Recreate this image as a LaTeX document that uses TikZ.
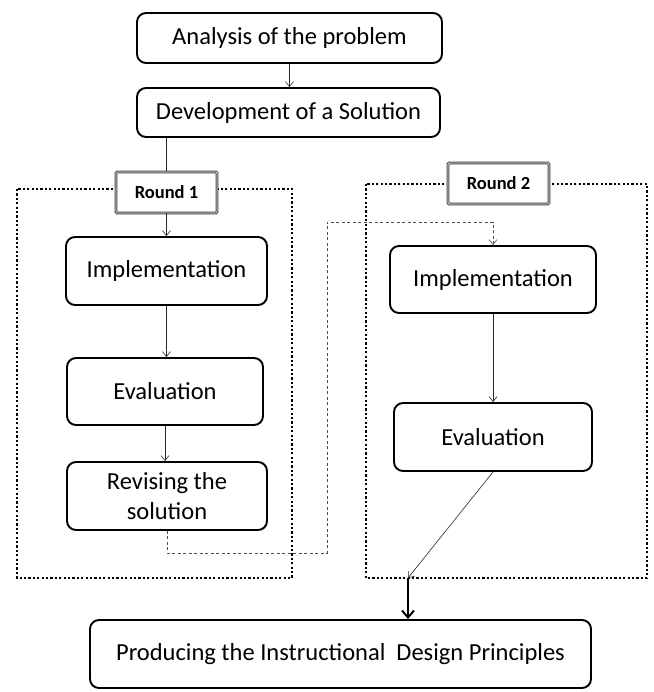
\documentclass[tikz,border=0pt]{standalone}
\usepackage{fontspec}
\setmainfont{Carlito}
\usetikzlibrary{arrows.meta}
\begin{document}
\begin{tikzpicture}[x=1pt,y=-1pt,
  box/.style={draw, line width=1.9pt, rounded corners=9pt, align=center,
    font=\fontsize{24.5}{30}\selectfont, inner sep=0pt, fill=white},
  lbl/.style={draw=black!75, double=white, double distance=0.7pt, line width=1pt,
    fill=white, font=\bfseries\fontsize{18.5}{22}\selectfont, inner sep=0pt,
    rounded corners=1pt},
  arr/.style={-{Straight Barb[length=5pt,width=8pt]}, line width=0.6pt, black!85},
  plainline/.style={line width=0.6pt, black!85},
  dconn/.style={-{Straight Barb[length=5pt,width=8pt]}, line width=0.6pt, black!70,
    dash pattern=on 3pt off 2.5pt},
  dotbox/.style={line width=2.4pt, dash pattern=on 2.2pt off 2.2pt, line cap=butt},
  bigarr/.style={-{Straight Barb[length=7pt,width=12pt,line width=2pt]}, line width=2.4pt}
]
\useasboundingbox (0,0) rectangle (653,692);

% dotted round boxes
\draw[dotbox] (17,189) rectangle (292,578);
\draw[dotbox] (366,184) rectangle (647,578);

% nodes
\node[box, minimum width=305pt, minimum height=50pt] (A) at (289.5,38) {Analysis of the problem};
\node[box, minimum width=303pt, minimum height=49pt] (D) at (288.5,112.5) {Development of a Solution};
\node[lbl, minimum width=101pt, minimum height=41pt] (R1) at (166.5,192.5) {Round 1};
\node[box, minimum width=201pt, minimum height=68pt] (I1) at (166.5,271) {Implementation};
\node[box, minimum width=196pt, minimum height=67pt] (E1) at (165,391.5) {Evaluation};
\node[box, minimum width=200pt, minimum height=68pt] (V1) at (167,496) {Revising the\\solution};
\node[lbl, minimum width=101pt, minimum height=41pt] (R2) at (498.5,183.5) {Round 2};
\node[box, minimum width=206pt, minimum height=67pt] (I2) at (493,279.5) {Implementation};
\node[box, minimum width=198pt, minimum height=68pt] (E2) at (493,437) {Evaluation};
\node[box, minimum width=501pt, minimum height=68pt] (P) at (340.5,654) {Producing the Instructional~ Design Principles};
\coordinate (m) at (408,578);

% connectors
\draw[arr] (A.south) -- (D.north -| A.south);
\draw[plainline] (R1.north |- D.south) -- (R1.north);
\draw[arr] (R1.south) -- (I1.north);
\draw[arr] (I1.south) -- (E1.north -| I1.south);
\draw[arr] (E1.south) -- (V1.north -| E1.south);
\draw[dconn] (V1.south) |- (327,553) -- (327,222) -| (I2.north);
\draw[arr] (I2.south) -- (E2.north);
\draw[arr] (E2.south) -- (m);
\draw[bigarr] (m) -- (m |- P.north);
\end{tikzpicture}
\end{document}
